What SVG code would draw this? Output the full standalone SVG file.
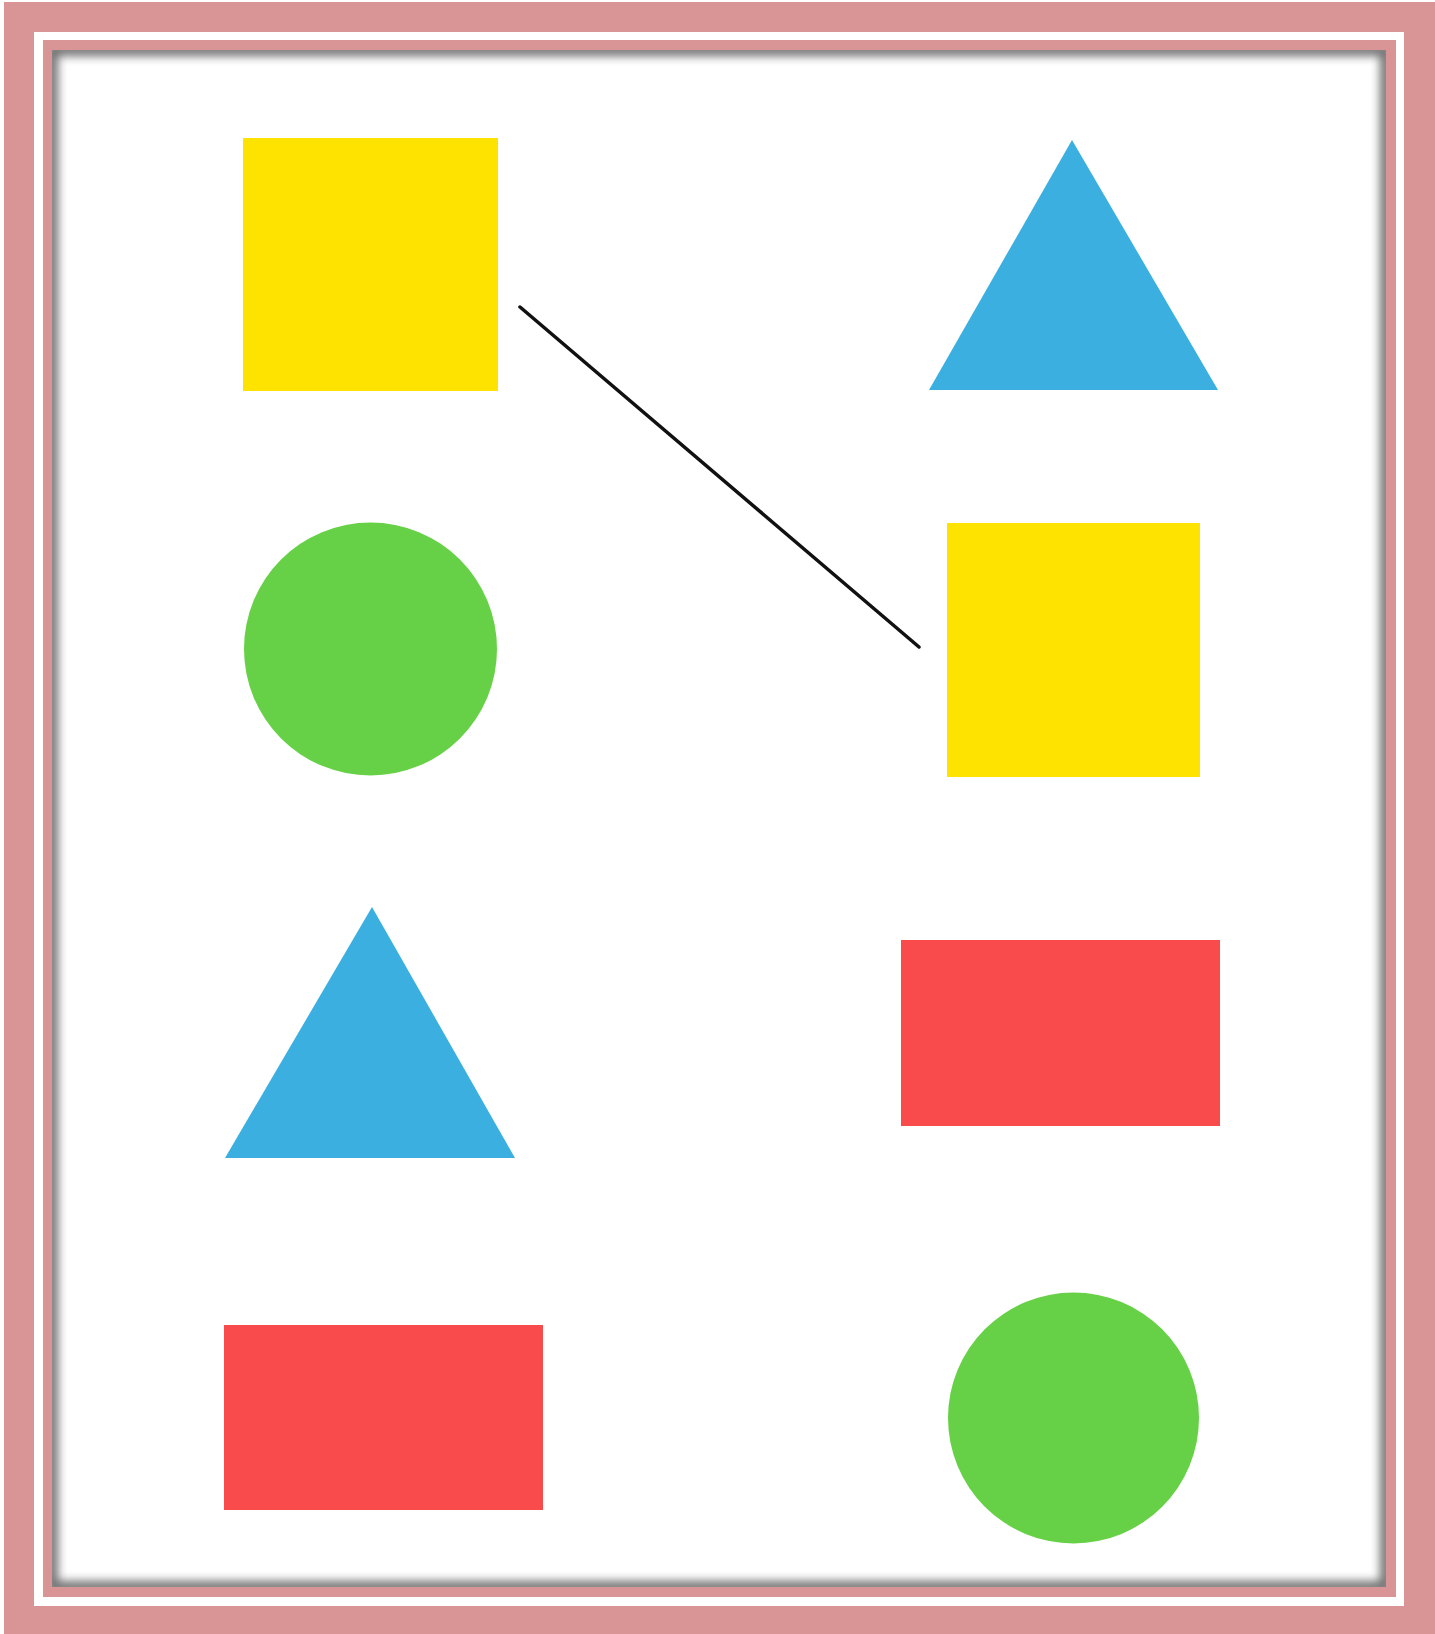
<svg xmlns="http://www.w3.org/2000/svg" width="1435" height="1634" viewBox="0 0 1435 1634">
<style>
.pink{fill:#D99595}
.yellow{fill:#FFE300}
.blue{fill:#3AAFE0}
.green{fill:#66D146}
.red{fill:#F94B4B}
.conn{stroke:#111;stroke-width:3.5;fill:none;stroke-linecap:round}
</style>
<defs>
<clipPath id="inner"><rect x="52" y="50" width="1334" height="1537"/></clipPath>
<filter id="blur" x="-5%" y="-5%" width="110%" height="110%"><feGaussianBlur stdDeviation="5"/></filter>
</defs>
<g id="frame">
<rect x="0" y="0" width="1435" height="1634" fill="#ffffff"/>
<rect class="pink" x="4" y="2" width="1431" height="1632"/>
<rect x="34" y="32" width="1370" height="1574" fill="#ffffff"/>
<rect class="pink" x="43" y="40" width="1353" height="1557"/>
<rect x="52" y="50" width="1334" height="1537" fill="#ffffff"/>
<g clip-path="url(#inner)">
<rect x="52" y="50" width="1334" height="1537" fill="none" stroke="#707070" stroke-width="12" filter="url(#blur)"/>
</g>
</g>
<g id="yellow-square-1"><rect class="yellow" x="243" y="138" width="255" height="253"/></g>
<g id="blue-triangle-1"><polygon class="blue" points="1072,140 1218,390 929,390"/></g>
<g id="green-circle-1"><circle class="green" cx="370.5" cy="649" r="126.5"/></g>
<g id="yellow-square-2"><rect class="yellow" x="947" y="523" width="253" height="254"/></g>
<g id="blue-triangle-2"><polygon class="blue" points="372,907 515,1158 225,1158"/></g>
<g id="red-rect-1"><rect class="red" x="901" y="940" width="319" height="186"/></g>
<g id="red-rect-2"><rect class="red" x="224" y="1325" width="319" height="185"/></g>
<g id="green-circle-2"><circle class="green" cx="1073.5" cy="1418" r="125.5"/></g>
<g id="connectors"><line class="conn" x1="520" y1="307" x2="919" y2="647"/></g>
</svg>
